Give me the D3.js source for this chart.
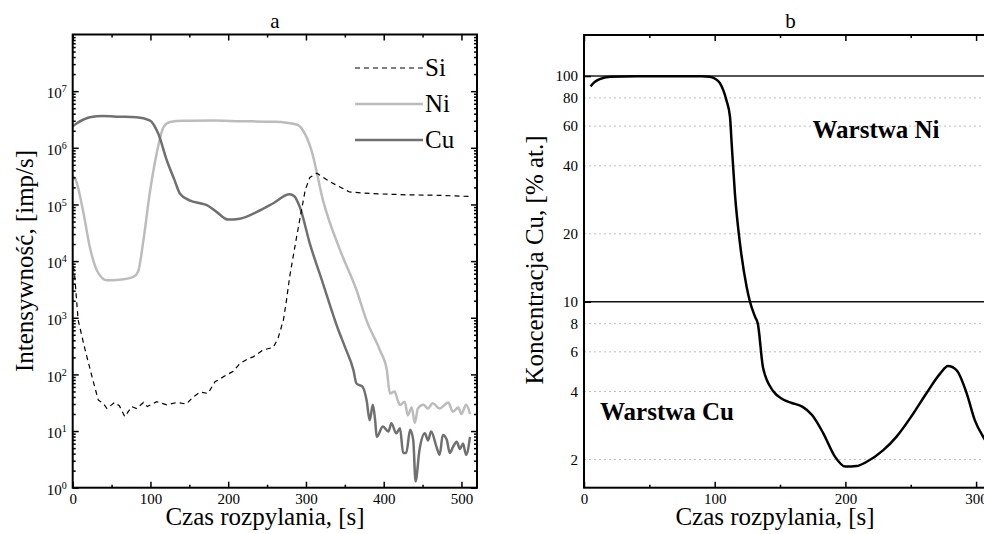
<!DOCTYPE html>
<html>
<head>
<meta charset="utf-8">
<script src="https://cdn.jsdelivr.net/npm/d3@7"></script>
<style>
  body { margin: 0; background: #fff; }
  svg { display: block; font-family: "Liberation Serif", "Times New Roman", serif; }
</style>
</head>
<body>
<svg id="chart" width="984" height="534"></svg>
<script>
// ---- panel a: intensity vs sputter time ----
const siT = [0, 2, 7, 16, 26, 33, 39, 44, 54, 60, 67, 76, 82, 91, 96, 108, 121, 134, 146, 155, 164, 174, 183, 198, 206, 215, 226, 232, 245, 258, 264, 271, 275, 279, 288, 299, 305, 314, 331, 356, 386, 429, 472, 511];
const siV = [8000, 6900, 910, 270, 79, 35, 31, 25, 32, 28, 18, 27, 25, 32, 27, 33, 29, 32, 30, 40, 49, 46, 74, 98, 112, 155, 190, 204, 270, 300, 430, 910, 2040, 5250, 26900, 178000, 300000, 355000, 251000, 166000, 155000, 148000, 145000, 138000];

const niT = [0, 3, 14, 22, 31, 44, 60, 78, 84, 91, 99, 108, 117, 125, 142, 180, 215, 260, 288, 296, 307, 322, 344, 365, 378, 395, 404, 408, 414, 418, 421, 427, 431, 436, 440, 444, 451, 457, 463, 472, 483, 489, 496, 500, 506, 511];
const niV = [316000, 288000, 69000, 17800, 6900, 4570, 4680, 5250, 6460, 23400, 155000, 794000, 2340000, 2850000, 3000000, 3020000, 2950000, 2880000, 2570000, 2040000, 912000, 117000, 15500, 3090, 890, 269, 120, 46, 50, 35, 29, 33, 19, 26, 14, 25, 29, 25, 31, 25, 32, 22, 26, 20, 29, 20];

const cuT = [0, 5, 14, 22, 39, 60, 82, 99, 110, 121, 131, 138, 151, 164, 172, 185, 200, 215, 237, 258, 279, 285, 292, 305, 322, 341, 350, 361, 365, 373, 378, 382, 386, 389, 391, 399, 406, 410, 416, 421, 425, 429, 434, 438, 441, 446, 453, 457, 461, 468, 472, 476, 481, 485, 489, 494, 498, 502, 506, 511];
const cuV = [2400000, 2690000, 3160000, 3470000, 3630000, 3550000, 3470000, 3050000, 1780000, 603000, 269000, 155000, 117000, 105000, 98000, 74000, 54000, 56000, 74000, 105000, 151000, 140000, 91000, 20400, 3980, 646, 309, 120, 69, 60, 35, 15.5, 29, 15.5, 7.9, 12, 9.8, 13.8, 9.1, 11.2, 4.1, 4.1, 10.5, 6.9, 1.3, 4.6, 9.1, 6.8, 9.8, 5.2, 3.8, 8.5, 7.1, 4.1, 5.2, 6.5, 4.8, 6.0, 3.8, 7.9];

const legendNames = ["Si", "Ni", "Cu"];
const xTicksA = [0, 100, 200, 300, 400, 500];
const xMinorA = [50, 150, 250, 350, 450];
const yExpA = [0, 1, 2, 3, 4, 5, 6, 7];

// ---- panel b: Cu concentration ----
const concT = [5, 8, 12, 20, 40, 70, 90, 96, 100, 104, 109, 111.7, 113, 115.5, 119.4, 124.5, 127, 130.8, 133, 137, 145, 152, 159, 167, 174.5, 183, 192, 200, 208.6, 216, 229, 239, 252, 262, 272.5, 278.5, 285, 292.8, 299, 306, 312, 316];
const concV = [90, 94, 97, 99.3, 99.8, 99.8, 99.7, 99.3, 97.5, 93, 78, 66, 50, 30, 18, 11.6, 10, 8.6, 8.0, 5.1, 4.0, 3.7, 3.56, 3.43, 3.15, 2.62, 2.06, 1.86, 1.87, 1.95, 2.2, 2.52, 3.2, 3.93, 4.8, 5.19, 4.98, 3.93, 2.99, 2.49, 2.2, 2.05];
const xTicksB = [0, 100, 200, 300];
const xMinorB = [50, 150, 250];
const yTicksB = [2, 4, 6, 8, 10, 20, 40, 60, 80, 100];
const yGridB = [2, 4, 6, 8, 20, 40, 60, 80];
const layerLines = [10, 100];
const layerNames = ["Warstwa Ni", "Warstwa Cu"];

const svg = d3.select("#chart");

function zip(t, v) { return t.map((d, i) => [d, v[i]]); }
function noDomain(g) { g.select(".domain").remove(); }

// ================= panel a =================
const xA = d3.scaleLinear().domain([0, 520]).range([72.7, 477]);
const yA = d3.scaleLog().domain([1, 1e8]).range([487.7, 34.5]);
const gA = svg.append("g");

svg.append("clipPath").attr("id", "clipA").append("rect")
  .attr("x", xA.range()[0]).attr("y", yA.range()[1])
  .attr("width", xA.range()[1] - xA.range()[0]).attr("height", yA.range()[0] - yA.range()[1]);

const lineA = d3.line().x(d => xA(d[0])).y(d => yA(d[1]));
const plotA = gA.append("g").attr("clip-path", "url(#clipA)");
plotA.append("path").datum(zip(niT, niV)).attr("d", lineA.curve(d3.curveMonotoneX))
  .attr("fill", "none").attr("stroke", "#bcbcbc").attr("stroke-width", 2.5);
plotA.append("path").datum(zip(cuT, cuV)).attr("d", lineA.curve(d3.curveMonotoneX))
  .attr("fill", "none").attr("stroke", "#707070").attr("stroke-width", 2.5);
plotA.append("path").datum(zip(siT, siV)).attr("d", lineA.curve(d3.curveLinear))
  .attr("fill", "none").attr("stroke", "#000").attr("stroke-width", 1.2).attr("stroke-dasharray", "5,4");

// axes of panel a (ticks point inward)
const minorY = [];
yExpA.forEach(e => { for (let k = 2; k <= 9; k++) minorY.push(k * Math.pow(10, e)); });

gA.append("g").attr("transform", `translate(0,${yA.range()[0]})`)
  .call(d3.axisBottom(xA).tickValues(xTicksA).tickSize(-6).tickPadding(6).tickFormat(d3.format("d")))
  .call(noDomain);
gA.append("g").attr("transform", `translate(0,${yA.range()[0]})`)
  .call(d3.axisBottom(xA).tickValues(xMinorA).tickSize(-3).tickFormat(""))
  .call(noDomain);
gA.append("g").attr("transform", `translate(0,${yA.range()[1]})`)
  .call(d3.axisTop(xA).tickValues(xTicksA).tickSize(-6).tickFormat(""))
  .call(noDomain);
gA.append("g").attr("transform", `translate(0,${yA.range()[1]})`)
  .call(d3.axisTop(xA).tickValues(xMinorA).tickSize(-3).tickFormat(""))
  .call(noDomain);

const yAxA = gA.append("g").attr("transform", `translate(${xA.range()[0]},0)`)
  .call(d3.axisLeft(yA).tickValues(yExpA.map(e => Math.pow(10, e))).tickSize(-6).tickPadding(6).tickFormat(""))
  .call(noDomain);
yAxA.selectAll(".tick text").each(function (d) {
  const t = d3.select(this).attr("dy", "0.45em");
  t.append("tspan").text("10");
  t.append("tspan").attr("dy", "-0.6em").attr("font-size", 10).text(Math.round(Math.log10(d)));
});
gA.append("g").attr("transform", `translate(${xA.range()[0]},0)`)
  .call(d3.axisLeft(yA).tickValues(minorY).tickSize(-3).tickFormat(""))
  .call(noDomain);
gA.append("g").attr("transform", `translate(${xA.range()[1]},0)`)
  .call(d3.axisRight(yA).tickValues(yExpA.map(e => Math.pow(10, e))).tickSize(-6).tickFormat(""))
  .call(noDomain);
gA.append("g").attr("transform", `translate(${xA.range()[1]},0)`)
  .call(d3.axisRight(yA).tickValues(minorY).tickSize(-3).tickFormat(""))
  .call(noDomain);

gA.selectAll(".tick line").attr("stroke", "#000").attr("stroke-width", 1.5);
gA.selectAll(".tick text").attr("font-family", "Liberation Serif").attr("font-size", 15).attr("fill", "#000");

gA.append("rect")
  .attr("x", xA.range()[0]).attr("y", yA.range()[1])
  .attr("width", xA.range()[1] - xA.range()[0]).attr("height", yA.range()[0] - yA.range()[1])
  .attr("fill", "none").attr("stroke", "#000").attr("stroke-width", 2);

// legend
const legStyle = [
  { stroke: "#000", w: 1.2, dash: "5,4" },
  { stroke: "#bcbcbc", w: 2.5, dash: null },
  { stroke: "#707070", w: 2.5, dash: null }
];
legendNames.forEach((name, i) => {
  const y = 68 + i * 36;
  gA.append("line").attr("x1", 355).attr("x2", 423).attr("y1", y).attr("y2", y)
    .attr("stroke", legStyle[i].stroke).attr("stroke-width", legStyle[i].w)
    .attr("stroke-dasharray", legStyle[i].dash);
  gA.append("text").attr("x", 425).attr("y", y + 8).attr("font-size", 25).text(name);
});

gA.append("text").attr("x", (xA.range()[0] + xA.range()[1]) / 2).attr("y", 28)
  .attr("text-anchor", "middle").attr("font-size", 21).text("a");
gA.append("text").attr("x", 265).attr("y", 525)
  .attr("text-anchor", "middle").attr("font-size", 25).text("Czas rozpylania, [s]");
gA.append("text").attr("transform", "translate(33,261) rotate(-90)")
  .attr("text-anchor", "middle").attr("font-size", 25).text("Intensywność, [imp/s]");

// ================= panel b =================
const xB = d3.scaleLinear().domain([0, 316]).range([584, 997]);
const yB = d3.scaleLog().domain([1.5, 152]).range([487.7, 35]);
const gB = svg.append("g");

svg.append("clipPath").attr("id", "clipB").append("rect")
  .attr("x", xB.range()[0]).attr("y", yB.range()[1])
  .attr("width", xB.range()[1] - xB.range()[0]).attr("height", yB.range()[0] - yB.range()[1]);

gB.append("g").selectAll("line").data(yGridB).join("line")
  .attr("x1", xB.range()[0]).attr("x2", xB.range()[1])
  .attr("y1", d => yB(d)).attr("y2", d => yB(d))
  .attr("stroke", "#bdbdbd").attr("stroke-width", 1).attr("stroke-dasharray", "2,3");

gB.append("g").selectAll("line").data(layerLines).join("line")
  .attr("x1", xB.range()[0]).attr("x2", xB.range()[1])
  .attr("y1", d => yB(d)).attr("y2", d => yB(d))
  .attr("stroke", d => d === 100 ? "#555" : "#111")
  .attr("stroke-width", d => d === 100 ? 2 : 1.4);

const lineB = d3.line().x(d => xB(d[0])).y(d => yB(d[1])).curve(d3.curveMonotoneX);
gB.append("g").attr("clip-path", "url(#clipB)").append("path")
  .datum(zip(concT, concV)).attr("d", lineB)
  .attr("fill", "none").attr("stroke", "#000").attr("stroke-width", 2.5);

gB.append("g").attr("transform", `translate(0,${yB.range()[0]})`)
  .call(d3.axisBottom(xB).tickValues(xTicksB).tickSize(-6).tickPadding(6).tickFormat(d3.format("d")))
  .call(noDomain);
gB.append("g").attr("transform", `translate(0,${yB.range()[0]})`)
  .call(d3.axisBottom(xB).tickValues(xMinorB).tickSize(-3).tickFormat(""))
  .call(noDomain);
gB.append("g").attr("transform", `translate(0,${yB.range()[1]})`)
  .call(d3.axisTop(xB).tickValues(xTicksB).tickSize(-6).tickFormat(""))
  .call(noDomain);
gB.append("g").attr("transform", `translate(0,${yB.range()[1]})`)
  .call(d3.axisTop(xB).tickValues(xMinorB).tickSize(-3).tickFormat(""))
  .call(noDomain);
gB.append("g").attr("transform", `translate(${xB.range()[0]},0)`)
  .call(d3.axisLeft(yB).tickValues(yTicksB).tickSize(0).tickPadding(6).tickFormat(d3.format("d")))
  .call(noDomain);
gB.append("g").attr("transform", `translate(${xB.range()[0]},0)`)
  .call(d3.axisLeft(yB).tickValues(layerLines).tickSize(-7).tickFormat(""))
  .call(noDomain);

gB.selectAll(".tick line").attr("stroke", "#000").attr("stroke-width", 1.5);
gB.selectAll(".tick text").attr("font-family", "Liberation Serif").attr("font-size", 15).attr("fill", "#000");

gB.append("rect")
  .attr("x", xB.range()[0]).attr("y", yB.range()[1])
  .attr("width", xB.range()[1] - xB.range()[0]).attr("height", yB.range()[0] - yB.range()[1])
  .attr("fill", "none").attr("stroke", "#000").attr("stroke-width", 2);

gB.append("text").attr("x", 876).attr("y", 138).attr("text-anchor", "middle")
  .attr("font-size", 25).attr("font-weight", "bold").text(layerNames[0]);
gB.append("text").attr("x", 667).attr("y", 420).attr("text-anchor", "middle")
  .attr("font-size", 25).attr("font-weight", "bold").text(layerNames[1]);

gB.append("text").attr("x", (xB.range()[0] + xB.range()[1]) / 2).attr("y", 28)
  .attr("text-anchor", "middle").attr("font-size", 21).text("b");
gB.append("text").attr("x", 775).attr("y", 525)
  .attr("text-anchor", "middle").attr("font-size", 25).text("Czas rozpylania, [s]");
gB.append("text").attr("transform", "translate(543,260) rotate(-90)")
  .attr("text-anchor", "middle").attr("font-size", 25).text("Koncentracja Cu, [% at.]");
</script>
</body>
</html>
